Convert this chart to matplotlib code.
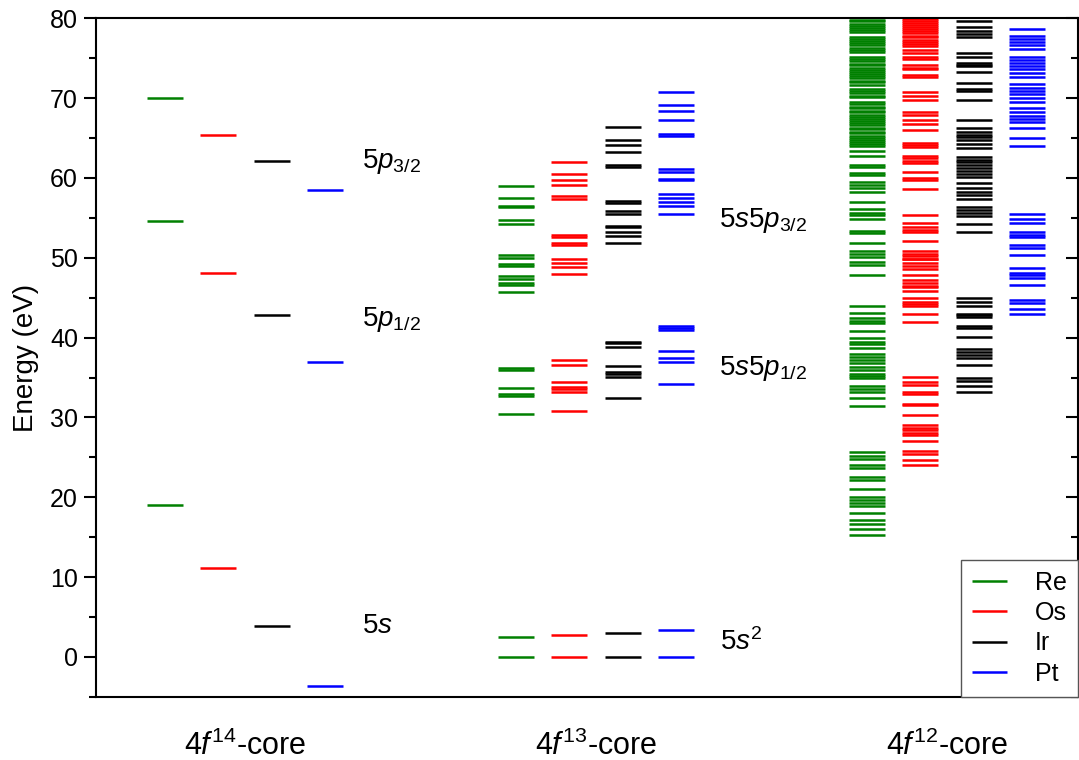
import numpy as np
import matplotlib
matplotlib.use("Agg")
import matplotlib.pyplot as plt

plt.rcParams['font.family'] = ['Liberation Sans', 'DejaVu Sans']
plt.rcParams['mathtext.fontset'] = 'custom'
plt.rcParams['mathtext.rm'] = 'Liberation Sans'
plt.rcParams['mathtext.it'] = 'Liberation Sans:italic'

elements = ["Re", "Os", "Ir", "Pt"]
colors = ["#008000", "#ff0000", "#000000", "#0000ff"]
cores = [r"4$\it{f}^{\rm 14}$-core", r"4$\it{f}^{\rm 13}$-core", r"4$\it{f}^{\rm 12}$-core"]

# 4f14-core: 5s, 5p1/2, 5p3/2
f14_re = [19.0, 54.6, 70.0]
f14_os = [11.1, 48.1, 65.4]
f14_ir = [3.9, 42.8, 62.1]
f14_pt = [-3.6, 37.0, 58.5]

# 4f13-core: 5s2 and 5s5p configurations
f13_re = [0.0, 2.5, 30.4, 32.7, 33.0, 33.7, 35.9, 36.2, 45.7, 46.6, 46.9, 47.4,
          47.7, 49.0, 49.2, 50.0, 50.3, 54.2, 54.7, 56.3, 56.5, 57.5, 58.95]
f13_os = [0.0, 2.75, 30.75, 33.25, 33.6, 33.8, 34.4, 36.6, 37.2, 48.0, 48.9,
          49.4, 49.9, 51.6, 51.8, 52.6, 52.9, 57.4, 57.7, 59.1, 59.7, 60.5, 62.0]
f13_ir = [0.0, 3.0, 32.5, 35.1, 35.4, 35.7, 36.5, 38.8, 39.3, 39.5, 51.8, 52.7,
          53.2, 53.8, 54.0, 55.5, 55.8, 56.8, 57.1, 61.4, 61.6, 63.2, 64.1, 64.8, 66.4]
f13_pt = [0.0, 3.4, 34.2, 37.0, 37.4, 38.3, 40.9, 41.2, 41.5, 55.5, 56.5, 56.95,
          57.5, 58.0, 59.7, 59.9, 60.8, 61.1, 65.3, 65.5, 67.2, 68.4, 69.1, 70.7]

# 4f12-core: 5s2 5p^2 and 5s 5p^3 configurations
f12_re = [15.3, 16.0, 16.6, 17.1, 18.0, 18.9, 19.3, 19.7, 20.1, 21.0, 22.2, 22.5,
          23.7, 24.0, 24.8, 25.2, 25.7,
          31.4, 32.4, 33.2, 33.6, 34.0, 34.9, 35.2, 35.5, 35.9, 36.3, 36.8, 37.2,
          37.6, 38.0, 38.7, 39.2, 39.5, 39.9, 40.8, 41.8, 42.1, 42.4, 43.1, 44.0,
          47.9, 49.1, 49.5, 50.1, 50.5, 50.9, 51.85, 53.15, 53.4, 54.8, 55.4, 55.6,
          56.1, 57.0, 58.3, 58.7, 59.1, 59.5, 60.4, 60.6, 61.4, 61.6, 62.7, 63.4,
          64.0, 64.3, 64.5, 64.8, 65.0, 65.3, 65.6, 65.8, 66.1, 66.3, 66.6, 66.9,
          67.1, 67.4, 67.6, 67.9, 68.2, 68.4, 68.7, 68.9, 69.2, 69.5, 70.1, 70.3,
          70.6, 70.9, 71.1, 71.7, 72.0, 72.2, 72.5, 72.8, 73.0, 73.3, 73.5, 73.8,
          74.1, 74.3, 74.6, 74.9, 75.1, 75.8, 76.0, 76.3, 76.6, 76.9, 77.1, 77.4,
          77.7, 78.3, 78.5, 78.8, 79.0, 79.3, 79.6, 79.8]
f12_os = [24.0, 24.7, 25.4, 25.8, 27.0, 27.8, 28.1, 28.4, 28.7, 29.1, 30.3, 31.5,
          31.7, 32.9, 33.2, 34.1, 34.5, 35.1,
          42.0, 43.0, 43.9, 44.2, 44.5, 44.9, 45.8, 46.35, 46.5, 46.9, 47.2, 47.8,
          48.6, 49.0, 49.3, 49.8, 49.9, 50.2, 50.5, 50.9, 52.1, 53.2, 53.5, 53.9,
          54.3, 55.3, 58.6, 59.8, 60.0, 60.75, 61.9, 62.1, 62.5, 62.8, 63.9, 64.1,
          64.4, 66.0, 66.7, 67.3, 67.9, 68.2, 69.7, 70.2, 70.8, 72.6, 72.9, 73.6,
          73.8, 74.1, 74.9, 75.2, 75.6, 76.0, 76.5, 76.8, 77.0, 77.3, 77.6, 77.8,
          78.1, 78.4, 78.6, 78.9, 79.2, 79.4, 79.7, 79.9]
f12_ir = [33.2, 33.9, 34.6, 35.0, 36.55, 37.4, 37.8, 38.2, 38.6, 40.1, 41.2, 41.4,
          42.6, 42.8, 43.0, 43.9, 44.5, 45.0,
          53.2, 54.2, 55.2, 55.6, 56.0, 56.4, 57.3, 57.9, 58.3, 58.7, 59.4, 60.1,
          60.5, 60.9, 61.2, 61.6, 62.0, 62.3, 62.6, 63.7, 64.2, 64.7, 65.1, 65.4,
          65.8, 66.2, 67.3, 69.7, 70.9, 71.1, 71.9, 73.3, 74.0, 74.2, 74.4, 75.1,
          75.6, 77.7, 78.0, 78.4, 78.9, 79.7]
f12_pt = [42.9, 43.6, 44.3, 44.7, 46.6, 47.5, 47.8, 48.1, 48.7, 50.4, 51.2, 51.6,
          52.6, 52.9, 53.2, 54.3, 54.9, 55.5,
          64.0, 65.0, 66.2, 67.0, 67.4, 67.8, 68.3, 68.7, 69.5, 70.0, 70.5, 70.9,
          71.3, 71.8, 72.6, 73.1, 73.6, 74.0, 74.4, 74.8, 75.1, 76.2, 76.6, 77.0,
          77.4, 77.8, 78.7]

levels = [
    [f14_re, f14_os, f14_ir, f14_pt],
    [f13_re, f13_os, f13_ir, f13_pt],
    [f12_re, f12_os, f12_ir, f12_pt],
]

group_x = [149, 500, 851]
elem_dx = [-80, -27, 27, 80]
half_w = 18

fig = plt.figure(figsize=(10.79, 7.60), dpi=100)
ax = fig.add_axes([0.089, 0.083, 0.910, 0.893])

for g, group in enumerate(levels):
    for e, vals in enumerate(group):
        xc = group_x[g] + elem_dx[e]
        ax.hlines(vals, xc - half_w, xc + half_w, colors=colors[e], lw=1.8,
                  label=elements[e] if g == 0 else None)

# configuration labels
lab_fs = 20
ax.text(266, 61.3, r"5$\it{p}_{\rm 3/2}$", fontsize=lab_fs)
ax.text(266, 41.5, r"5$\it{p}_{\rm 1/2}$", fontsize=lab_fs)
ax.text(266, 3.0, r"5$\it{s}$", fontsize=lab_fs)
ax.text(623, 53.9, r"5$\it{s}$5$\it{p}_{\rm 3/2}$", fontsize=lab_fs)
ax.text(623, 35.3, r"5$\it{s}$5$\it{p}_{\rm 1/2}$", fontsize=lab_fs)
ax.text(624, 0.9, r"5$\it{s}^{\rm 2}$", fontsize=lab_fs)

ax.set_xlim(0, 982)
ax.set_ylim(-5, 80)
ax.set_xticks(group_x)
ax.set_xticklabels(cores, fontsize=22)
ax.tick_params(axis='x', length=0, pad=24)
ax.set_yticks(np.arange(0, 81, 10))
ax.set_yticks(np.arange(-5, 81, 5), minor=True)
ax.tick_params(axis='y', which='major', labelsize=18, length=9, width=1.5,
               direction='out', right=True, pad=4)
ax.tick_params(axis='y', which='minor', length=5, width=1.5, direction='out', right=True)
for t in ax.yaxis.get_major_ticks() + ax.yaxis.get_minor_ticks():
    t.tick2line.set_marker(matplotlib.lines.TICKLEFT)
ax.set_ylabel("Energy (eV)", fontsize=20, labelpad=8)
for s in ax.spines.values():
    s.set_linewidth(1.5)

leg = ax.legend(loc='lower right', fontsize=18, frameon=True, fancybox=False,
                framealpha=1, edgecolor='#555555', borderaxespad=0,
                handlelength=1.4, handletextpad=1.1, labelspacing=0.25,
                borderpad=0.45)
leg.get_frame().set_linewidth(1.0)
leg.set_zorder(10)

fig.savefig("out.png", dpi=100)
